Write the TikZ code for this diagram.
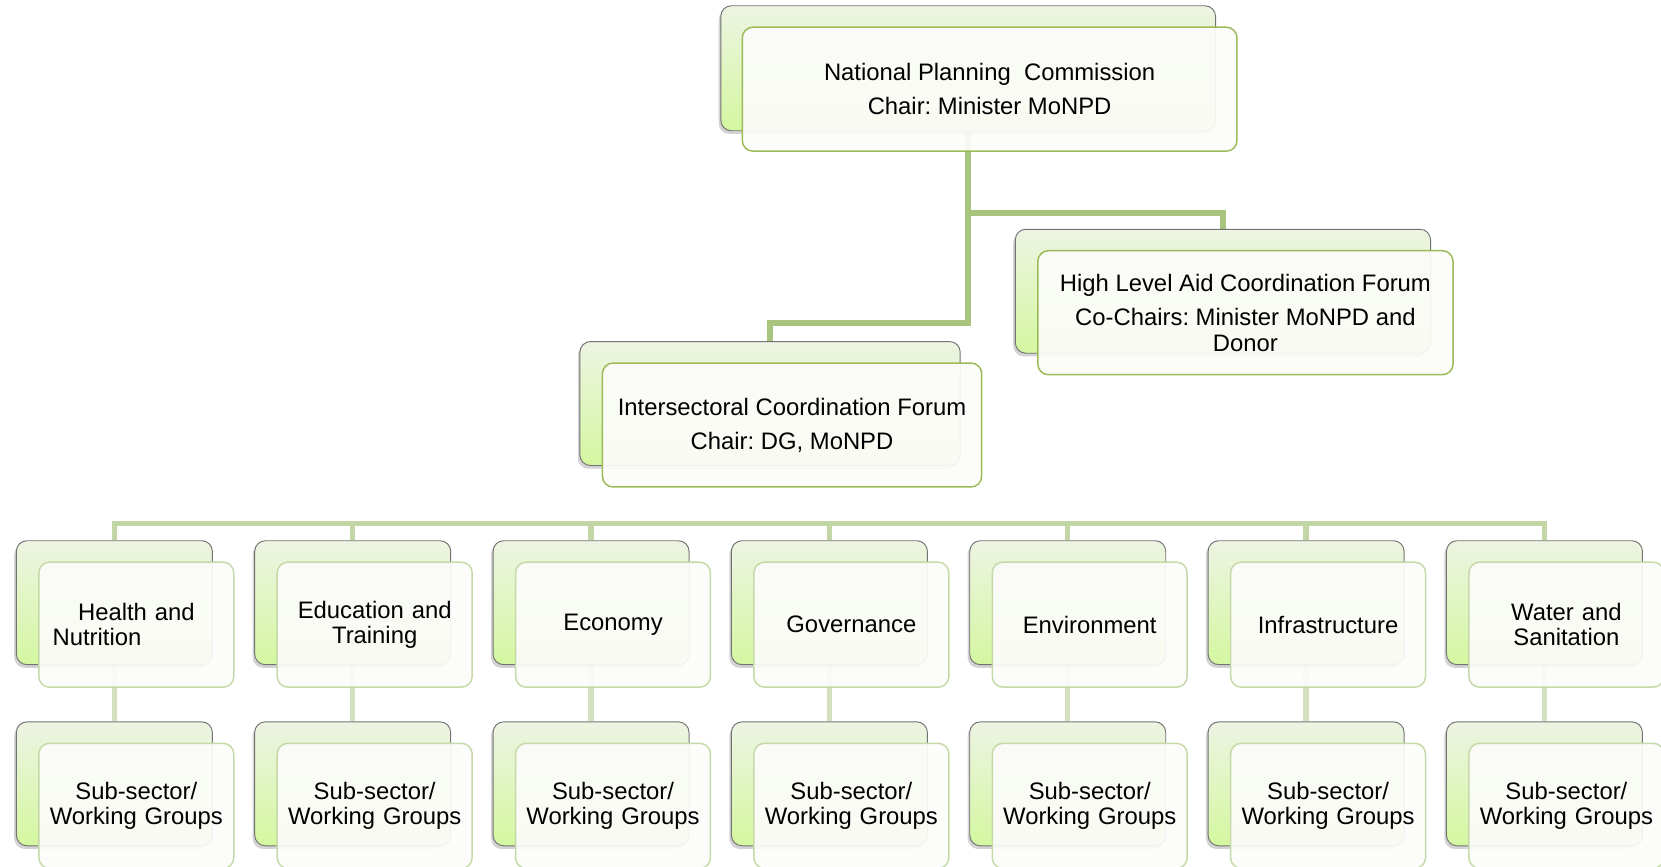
\documentclass[tikz,border=0pt]{standalone}
\usepackage{fontspec}
\setmainfont{Liberation Sans}
\frenchspacing
\usetikzlibrary{shadows,backgrounds}
\definecolor{conA}{HTML}{A9C47F}
\definecolor{conB}{HTML}{C3D6A5}
\definecolor{conC}{HTML}{D3E1BE}
\definecolor{edgeA}{HTML}{9BBB59}
\definecolor{edgeB}{HTML}{C6D9A8}
\definecolor{backtop}{HTML}{EDF4E3}
\definecolor{backbot}{HTML}{D4F7A0}
\definecolor{frontfill}{HTML}{FCFCFA}
\begin{document}
\begin{tikzpicture}[x=1pt,y=-1pt,
  font=\fontsize{22.5}{24}\selectfont,
  backbox/.style={rectangle, rounded corners=10pt, draw=black!55, line width=0.9pt,
    top color=backtop, bottom color=backbot, anchor=north west, inner sep=0pt,
    drop shadow={shadow xshift=-2pt, shadow yshift=-3pt, opacity=0.35}},
  frontbox/.style={rectangle, rounded corners=10pt, line width=1.4pt, fill=frontfill,
    fill opacity=0.92, text opacity=1, anchor=north west, inner sep=0pt, align=center},
  frontA/.style={frontbox, draw=edgeA},
  frontB/.style={frontbox, draw=edgeB, text width=170pt, inner xsep=7pt},
  linkA/.style={draw=conA, line width=5.5pt},
  linkB/.style={draw=conB, line width=5pt},
  linkC/.style={draw=conC, line width=5pt}]
\useasboundingbox (0,0) rectangle (1568,818);

% National Planning Commission
\node[backbox, minimum width=467pt, minimum height=118pt] (tb) at (680,5) {};
\node[frontA, minimum width=467pt, minimum height=117pt] (tf) at (700,25)
  {National Planning~ Commission\\[8pt]Chair: Minister MoNPD};

% High Level Aid Coordination Forum
\node[backbox, minimum width=392pt, minimum height=117pt] (hb) at (958,216) {};
\node[frontA, minimum width=392pt, minimum height=117pt] (hf) at (979,236)
  {High Level Aid Coordination Forum\\[9pt]Co-Chairs: Minister MoNPD and\\Donor};

% Intersectoral Coordination Forum
\node[backbox, minimum width=359pt, minimum height=117pt] (ib) at (547,322) {};
\node[frontA, minimum width=358pt, minimum height=117pt] (if) at (568,342)
  {Intersectoral Coordination Forum\\[8pt]Chair: DG, MoNPD};

% Sectors and sub-sectors
\foreach \i/\a/\t in {1/left/{\hspace*{30pt}Health and\\\hspace*{6pt}Nutrition},
                      2/center/{Education and\\Training},
                      3/center/{Economy},
                      4/center/{Governance},
                      5/center/{Environment},
                      6/center/{Infrastructure},
                      7/center/{Water and\\Sanitation}}{
  \pgfmathsetmacro\xx{15+225*(\i-1)}
  \node[backbox, minimum width=185pt, minimum height=117pt] (sb\i) at (\xx,510) {};
  \node[frontB, align=\a, minimum width=184pt, minimum height=118pt] (sf\i) at (\xx+21,530) {\t};
  \node[backbox, minimum width=185pt, minimum height=117pt] (wb\i) at (\xx,681) {};
  \node[frontB, minimum width=184pt, minimum height=118pt] (wf\i) at (\xx+21,701)
    {Sub-sector/\\Working Groups};
}

% Connectors
\begin{scope}[on background layer]
  \draw[linkA] (tb.south) -- ++(0,181) -| (ib.north);
  \draw[linkA] (tb.south) ++(0,77) -| (hb.north);
  \foreach \i in {1,...,7}{
    \draw[linkB] (ib.south) ++(0,54) -| (sb\i.north);
    \draw[linkC] (sb\i.south) -- (wb\i.north);
  }
\end{scope}
\end{tikzpicture}
\end{document}
